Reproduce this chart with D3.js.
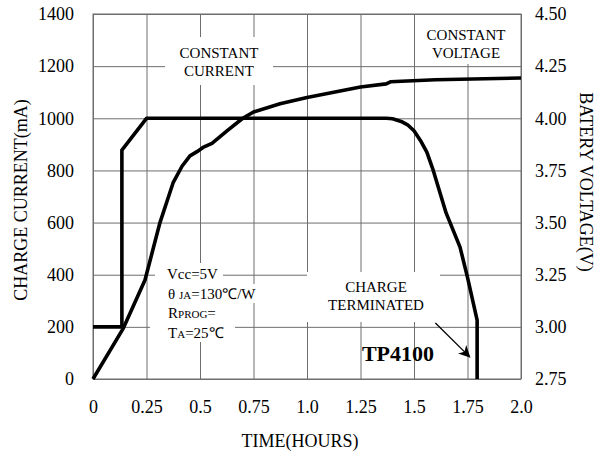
<!DOCTYPE html>
<html>
<head>
<meta charset="utf-8">
<script src="https://cdn.jsdelivr.net/npm/d3@7"></script>
<style>
  body { margin: 0; background: #fff; }
  svg text { font-family: "Liberation Serif", "Times New Roman", serif; fill: #000; }
</style>
</head>
<body>
<div id="chart"></div>
<script>
// tick values and labels
var timeTicks = [0, 0.25, 0.5, 0.75, 1.0, 1.25, 1.5, 1.75, 2.0];
var timeLabels = ["0", "0.25", "0.5", "0.75", "1.0", "1.25", "1.5", "1.75", "2.0"];
var currentTicks = [0, 200, 400, 600, 800, 1000, 1200, 1400];
var voltageTicks = [2.75, 3.0, 3.25, 3.5, 3.75, 4.0, 4.25, 4.5];

// charge current (mA) vs time (hours)
var currentT  = [0, 0.135, 0.135, 0.25, 1.37, 1.40, 1.44, 1.47, 1.50, 1.53, 1.56, 1.59, 1.65, 1.715, 1.75, 1.795, 1.795];
var currentMA = [200, 200, 878, 1000, 1000, 998, 988, 975, 952, 915, 870, 800, 637, 506, 390, 226, 0];

// battery voltage (V) vs time (hours)
var voltageT = [0, 0.14, 0.243, 0.313, 0.374, 0.416, 0.453, 0.486, 0.514, 0.556, 0.626, 0.70, 0.75, 0.874, 1.0, 1.25, 1.37, 1.39, 1.6, 2.0];
var voltageV = [2.75, 2.99, 3.225, 3.50, 3.69, 3.77, 3.82, 3.84, 3.86, 3.88, 3.94, 4.0, 4.03, 4.07, 4.10, 4.15, 4.165, 4.175, 4.185, 4.193];

var width = 598, height = 452;
var plotLeft = 93, plotRight = 521, plotTop = 14, plotBottom = 379;
var gridColor = "#6e6e6e",
    lineWidth = 3.6,
    labelSize = 18,
    noteSize = 15;

var svg = d3.select("#chart").append("svg")
    .attr("width", width)
    .attr("height", height);

var x = d3.scaleLinear().domain([0, 2]).range([plotLeft, plotRight]);
var yI = d3.scaleLinear().domain([0, 1400]).range([plotBottom, plotTop]);
var yV = d3.scaleLinear().domain([2.75, 4.5]).range([plotBottom, plotTop]);

// grid
var grid = svg.append("g");
grid.append("g")
    .attr("transform", "translate(0," + plotBottom + ")")
    .call(d3.axisBottom(x).tickValues(timeTicks).tickSize(-(plotBottom - plotTop)).tickFormat(""))
    .call(function(g) { g.select(".domain").remove(); });
grid.append("g")
    .attr("transform", "translate(" + plotLeft + ",0)")
    .call(d3.axisLeft(yI).tickValues(currentTicks).tickSize(-(plotRight - plotLeft)).tickFormat(""))
    .call(function(g) { g.select(".domain").remove(); });
grid.selectAll("line").attr("stroke", gridColor).attr("stroke-width", 1);
grid.append("rect")
    .attr("x", plotLeft).attr("y", plotTop)
    .attr("width", plotRight - plotLeft).attr("height", plotBottom - plotTop)
    .attr("fill", "none").attr("stroke", gridColor).attr("stroke-width", 1);

// tick labels
function styleLabels(g) {
    g.select(".domain").remove();
    g.selectAll("line").remove();
    g.selectAll("text").attr("font-size", labelSize).attr("font-family", "Liberation Serif, serif");
}
svg.append("g")
    .attr("transform", "translate(0," + plotBottom + ")")
    .call(d3.axisBottom(x).tickValues(timeTicks).tickSize(0).tickPadding(21)
        .tickFormat(function(d, i) { return timeLabels[i]; }))
    .call(styleLabels);
svg.append("g")
    .attr("transform", "translate(" + plotLeft + ",0)")
    .call(d3.axisLeft(yI).tickValues(currentTicks).tickSize(0).tickPadding(19)
        .tickFormat(d3.format("d")))
    .call(styleLabels);
svg.append("g")
    .attr("transform", "translate(" + plotRight + ",0)")
    .call(d3.axisRight(yV).tickValues(voltageTicks).tickSize(0).tickPadding(14)
        .tickFormat(d3.format(".2f")))
    .call(styleLabels);

// axis titles
svg.append("text")
    .attr("transform", "translate(27,200) rotate(-90)")
    .attr("text-anchor", "middle")
    .attr("font-size", 18)
    .text("CHARGE CURRENT(mA)");
svg.append("text")
    .attr("transform", "translate(580,182) rotate(90)")
    .attr("text-anchor", "middle")
    .attr("font-size", 18)
    .text("BATERY VOLTAGE(V)");
svg.append("text")
    .attr("x", 300).attr("y", 447)
    .attr("text-anchor", "middle")
    .attr("font-size", 18)
    .text("TIME(HOURS)");

// white boxes behind annotations
var boxes = [
    [165, 37, 108, 48],
    [415, 15, 103, 49],
    [155, 263, 68, 21],
    [150, 284, 113, 19],
    [150, 303, 83, 18],
    [150, 321, 85, 21],
    [307, 272, 133, 50]
];
svg.append("g").selectAll("rect")
    .data(boxes)
    .enter().append("rect")
    .attr("x", function(d) { return d[0]; })
    .attr("y", function(d) { return d[1]; })
    .attr("width", function(d) { return d[2]; })
    .attr("height", function(d) { return d[3]; })
    .attr("fill", "#fff");

// curves
var currentLine = d3.line()
    .x(function(d, i) { return x(currentT[i]); })
    .y(function(d, i) { return yI(currentMA[i]); });
var voltageLine = d3.line()
    .x(function(d, i) { return x(voltageT[i]); })
    .y(function(d, i) { return yV(voltageV[i]); });

svg.append("path")
    .attr("d", currentLine(currentT))
    .attr("fill", "none").attr("stroke", "#000")
    .attr("stroke-width", lineWidth).attr("stroke-linejoin", "round");
svg.append("path")
    .attr("d", voltageLine(voltageT))
    .attr("fill", "none").attr("stroke", "#000")
    .attr("stroke-width", lineWidth).attr("stroke-linejoin", "round");

// notes
function centered(xp, yp, text) {
    svg.append("text").attr("x", xp).attr("y", yp)
        .attr("text-anchor", "middle").attr("font-size", noteSize).text(text);
}
centered(219, 58, "CONSTANT");
centered(219, 76, "CURRENT");
centered(466, 40, "CONSTANT");
centered(466, 58, "VOLTAGE");
centered(376, 292, "CHARGE");
centered(376, 310, "TERMINATED");

var cond = svg.append("g").attr("font-size", 15);
cond.append("text").attr("x", 167).attr("y", 279).text("Vcc=5V");
var t2 = cond.append("text").attr("x", 168).attr("y", 299);
t2.append("tspan").text("\u03b8 ");
t2.append("tspan").attr("font-size", 11).text("JA");
t2.append("tspan").text("=130\u2103/W");
var t3 = cond.append("text").attr("x", 168).attr("y", 318);
t3.append("tspan").text("R");
t3.append("tspan").attr("font-size", 11).text("PROG");
t3.append("tspan").text("=");
var t4 = cond.append("text").attr("x", 168).attr("y", 338);
t4.append("tspan").text("T");
t4.append("tspan").attr("font-size", 11).text("A");
t4.append("tspan").text("=25\u2103");

svg.append("text")
    .attr("x", 398).attr("y", 361)
    .attr("text-anchor", "middle")
    .attr("font-size", 22).attr("font-weight", "bold")
    .text("TP4100");

// arrow to termination point
svg.append("defs").append("marker")
    .attr("id", "head")
    .attr("viewBox", "0 0 10 10")
    .attr("refX", 9).attr("refY", 5)
    .attr("markerWidth", 12).attr("markerHeight", 12)
    .attr("markerUnits", "userSpaceOnUse")
    .attr("orient", "auto")
    .append("path").attr("d", "M0,0 L10,5 L0,10 L3,5 Z").attr("fill", "#000");
svg.append("line")
    .attr("x1", x(1.6)).attr("y1", yI(215))
    .attr("x2", x(1.76)).attr("y2", yI(85))
    .attr("stroke", "#000").attr("stroke-width", 1.3)
    .attr("marker-end", "url(#head)");
</script>
</body>
</html>
